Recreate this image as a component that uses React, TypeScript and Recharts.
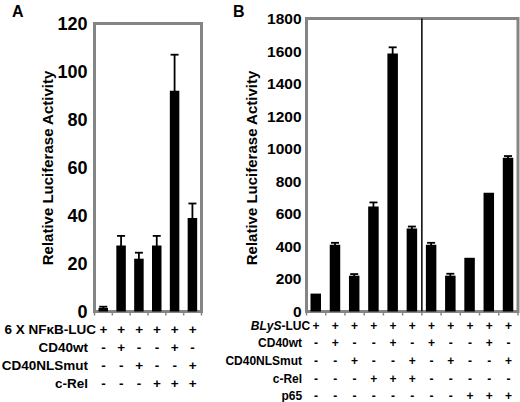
import React from "react";
import { Bar, BarChart, ErrorBar, ReferenceArea, ReferenceLine, XAxis, YAxis } from "recharts";

const FONT = '"Liberation Sans", Arial, Helvetica, sans-serif';
const BORDER = "#858585";

// Panel A: 6X NFkB reporter
const A_CATEGORIES = ["a1", "a2", "a3", "a4", "a5", "a6"];
const A_VALUES = [1.5, 27.5, 22, 27.5, 92, 39];
const A_ERRORS = [0.5, 4, 2.5, 4, 15, 6];
const A_TICKS = [0, 20, 40, 60, 80, 100, 120];
const A_ROW_LABELS = ["6 X NFκB-LUC", "CD40wt", "CD40NLSmut", "c-Rel"];
const A_ROW_SIGNS = [
  ["+", "+", "+", "+", "+", "+"],
  ["-", "+", "-", "-", "+", "-"],
  ["-", "-", "+", "-", "-", "+"],
  ["-", "-", "-", "+", "+", "+"],
];

// Panel B: BLyS promoter reporter
const B_CATEGORIES = ["b1", "b2", "b3", "b4", "b5", "b6", "b7", "b8", "b9", "b10", "b11"];
const B_VALUES = [110, 410, 220, 645, 1585, 510, 410, 220, 330, 730, 945];
const B_ERRORS = [0, 12, 10, 25, 38, 12, 12, 12, 0, 0, 10];
const B_TICKS = [0, 200, 400, 600, 800, 1000, 1200, 1400, 1600, 1800];
const B_ROW_LABELS = ["BLyS-LUC", "CD40wt", "CD40NLSmut", "c-Rel", "p65"];
const B_ITALIC_PREFIX = "BLyS";
const B_ROW_SIGNS = [
  ["+", "+", "+", "+", "+", "+", "+", "+", "+", "+", "+"],
  ["-", "+", "-", "-", "+", "-", "+", "-", "-", "+", "-"],
  ["-", "-", "+", "-", "-", "+", "-", "+", "-", "-", "+"],
  ["-", "-", "-", "+", "+", "+", "-", "-", "-", "-", "-"],
  ["-", "-", "-", "-", "-", "-", "-", "-", "+", "+", "+"],
];
const B_SPLIT_BEFORE = "b7";

type PanelProps = {
  left: number;
  width: number;
  plotLeft: number;
  plotRight: number;
  plotTop: number;
  plotBottom: number;
  categories: string[];
  values: number[];
  errors: number[];
  ticks: number[];
  rowLabels: string[];
  rowSigns: string[][];
  italicPrefix?: string;
  splitBefore?: string;
  tickFont: number;
  tickGap: number;
  tableFont: number;
  rowStart: number;
  rowStep: number;
  firstLabelGap: number;
  labelGap: number;
  barSize: number;
  titleX: number;
};

function Panel(p: PanelProps) {
  const data = p.categories.map((c, i) => ({ cat: c, value: p.values[i], err: p.errors[i] }));
  const n = p.categories.length;
  const band = (p.plotRight - p.plotLeft) / n;
  const height = 402;
  const max = p.ticks[p.ticks.length - 1];

  const renderLabel = (label: string) => {
    if (p.italicPrefix && label.startsWith(p.italicPrefix)) {
      return (
        <>
          <tspan fontStyle="italic">{p.italicPrefix}</tspan>
          <tspan>{label.slice(p.italicPrefix.length)}</tspan>
        </>
      );
    }
    return label;
  };

  const tableTick = (t: any) => {
    const { x, y, payload } = t;
    const i = p.categories.indexOf(payload.value);
    const textStyle = { fontFamily: FONT, fontWeight: 700, fontSize: p.tableFont } as const;
    return (
      <g>
        <line x1={x - band / 2} x2={x - band / 2} y1={y} y2={y + 4} stroke={BORDER} strokeWidth={1.5} />
        {i === n - 1 && (
          <line x1={x + band / 2} x2={x + band / 2} y1={y} y2={y + 4} stroke={BORDER} strokeWidth={1.5} />
        )}
        {p.rowSigns.map((row, r) => (
          <text
            key={r}
            x={x}
            y={y + p.rowStart + r * p.rowStep}
            textAnchor="middle"
            dominantBaseline="central"
            fill="#000"
            style={textStyle}
          >
            {row[i]}
          </text>
        ))}
        {i === 0 &&
          p.rowLabels.map((label, r) => (
            <text
              key={"l" + r}
              x={x - (r === 0 ? p.firstLabelGap : p.labelGap)}
              y={y + p.rowStart + r * p.rowStep}
              textAnchor="end"
              dominantBaseline="central"
              fill="#000"
              style={textStyle}
            >
              {renderLabel(label)}
            </text>
          ))}
      </g>
    );
  };

  const yLabel = () => (
    <text
      x={p.titleX}
      y={168}
      transform={`rotate(-90, ${p.titleX}, 168)`}
      textAnchor="middle"
      dominantBaseline="central"
      fill="#000"
      style={{ fontFamily: FONT, fontWeight: 700, fontSize: 15 }}
    >
      Relative Luciferase Activity
    </text>
  );

  return (
    <div style={{ position: "absolute", left: p.left, top: 0 }}>
      <BarChart
        width={p.width}
        height={height}
        data={data}
        margin={{ top: p.plotTop, right: p.width - p.plotRight, bottom: 0, left: 0 }}
      >
        <XAxis
          dataKey="cat"
          height={height - p.plotBottom}
          axisLine={false}
          tickLine={false}
          tickSize={0}
          tickMargin={0}
          interval={0}
          tick={tableTick}
        />
        <YAxis
          width={p.plotLeft}
          domain={[0, max]}
          ticks={p.ticks}
          interval={0}
          axisLine={false}
          tickLine={false}
          tickSize={0}
          tickMargin={p.tickGap}
          tick={{ fill: "#000", fontSize: p.tickFont, fontWeight: 700, fontFamily: FONT }}
          label={yLabel}
        />
        <Bar dataKey="value" fill="#000" barSize={p.barSize} isAnimationActive={false}>
          <ErrorBar dataKey="err" direction="y" width={4} stroke="#000" strokeWidth={1.8} />
        </Bar>
        <ReferenceArea y1={0} y2={max} fill="none" stroke={BORDER} strokeWidth={3} ifOverflow="visible" />
        {p.splitBefore && (
          <ReferenceLine x={p.splitBefore} position="start" stroke="#000" strokeWidth={1.5} ifOverflow="visible" />
        )}
      </BarChart>
    </div>
  );
}

export default function App() {
  return (
    <div
      style={{
        position: "absolute",
        left: 0,
        top: 0,
        width: 520,
        height: 402,
        background: "#fff",
        overflow: "hidden",
      }}
    >
      <Panel
        left={0}
        width={240}
        plotLeft={94.5}
        plotRight={201.5}
        plotTop={23.5}
        plotBottom={311.5}
        categories={A_CATEGORIES}
        values={A_VALUES}
        errors={A_ERRORS}
        ticks={A_TICKS}
        rowLabels={A_ROW_LABELS}
        rowSigns={A_ROW_SIGNS}
        tickFont={18}
        tickGap={7}
        tableFont={13.5}
        rowStart={18}
        rowStep={18}
        firstLabelGap={7.5}
        labelGap={15.5}
        barSize={9.5}
        titleX={47.5}
      />
      <Panel
        left={225}
        width={295}
        plotLeft={81.5}
        plotRight={293}
        plotTop={18.5}
        plotBottom={311.5}
        categories={B_CATEGORIES}
        values={B_VALUES}
        errors={B_ERRORS}
        ticks={B_TICKS}
        rowLabels={B_ROW_LABELS}
        rowSigns={B_ROW_SIGNS}
        italicPrefix={B_ITALIC_PREFIX}
        splitBefore={B_SPLIT_BEFORE}
        tickFont={15.5}
        tickGap={5}
        tableFont={12}
        rowStart={14}
        rowStep={17.7}
        firstLabelGap={6}
        labelGap={14}
        barSize={10.5}
        titleX={26}
      />
      <svg width={520} height={402} style={{ position: "absolute", left: 0, top: 0, pointerEvents: "none" }}>
        <text x={12} y={17} fill="#000" style={{ fontFamily: FONT, fontWeight: 700, fontSize: 16 }}>
          A
        </text>
        <text x={233} y={17} fill="#000" style={{ fontFamily: FONT, fontWeight: 700, fontSize: 16 }}>
          B
        </text>
      </svg>
    </div>
  );
}
